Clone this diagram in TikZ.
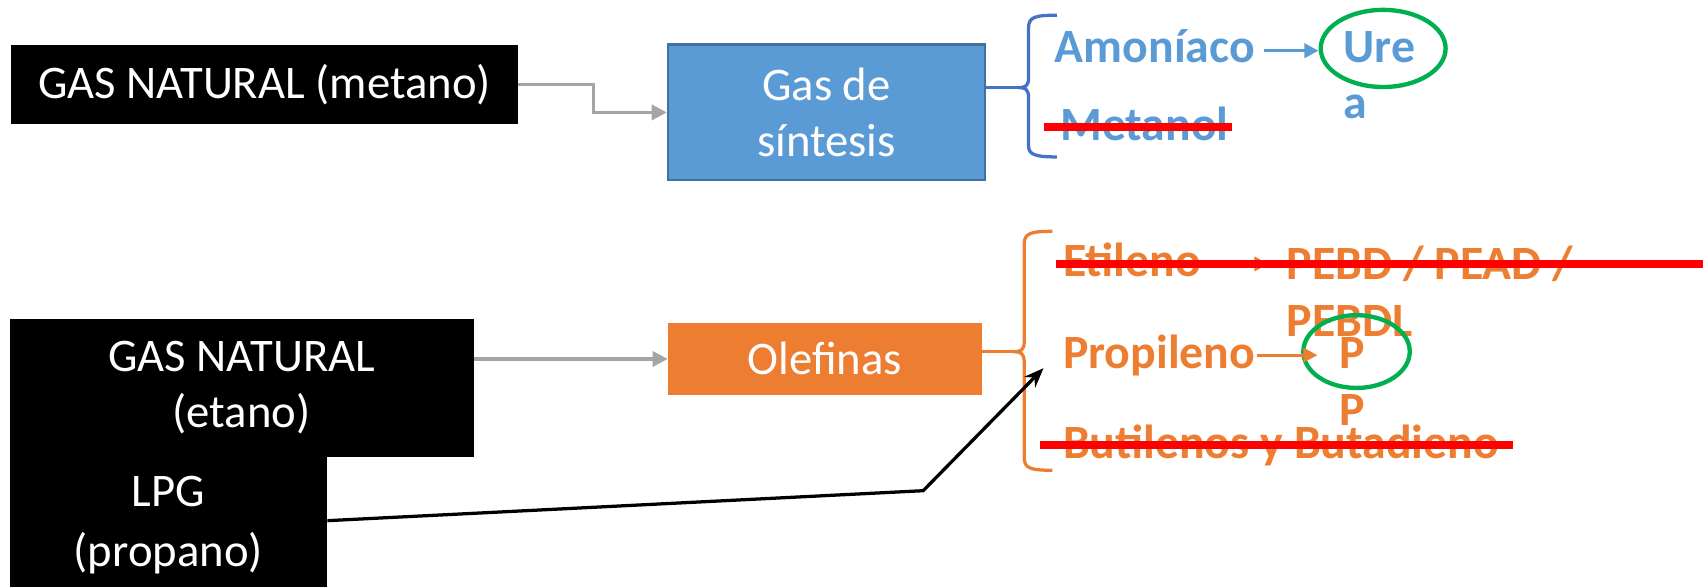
\documentclass[tikz,border=0pt]{standalone}
\usepackage{fontspec}
\setmainfont{Carlito}
\usetikzlibrary{arrows.meta,shapes.geometric}
\definecolor{blueF}{HTML}{5B9BD5}
\definecolor{blueB}{HTML}{41719C}
\definecolor{braceB}{HTML}{4472C4}
\definecolor{orangeF}{HTML}{ED7D31}
\definecolor{greenC}{HTML}{00B050}
\definecolor{redC}{HTML}{FF0000}
\definecolor{grayC}{HTML}{A5A5A5}
\tikzset{
  blackbox/.style={fill=black, draw=none, text=white, align=center, inner sep=0pt,
    font=\fontsize{43}{52}\selectfont},
  synbox/.style={fill=blueF, draw=blueB, line width=2pt, text=white, align=center, inner sep=0pt,
    font=\fontsize{43}{52}\selectfont},
  olebox/.style={fill=orangeF, draw=none, text=white, align=center, inner sep=0pt,
    font=\fontsize{43}{52}\selectfont},
  whitetext/.style={text=white, anchor=base, inner sep=0pt, font=\fontsize{43}{52}\selectfont},
  lab/.style={anchor=base west, inner sep=0pt, font=\bfseries\fontsize{44}{53}\selectfont},
  bluelab/.style={lab, text=blueF},
  orangelab/.style={lab, text=orangeF},
  grayarrow/.style={draw=grayC, line width=3pt, -{Triangle[length=14pt,width=14pt]}},
  bluearrow/.style={draw=blueF, line width=3pt, -{Triangle[length=13pt,width=13pt]}},
  orangearrow/.style={draw=orangeF, line width=3pt, -{Triangle[length=13pt,width=13pt]}},
  blackarrow/.style={draw=black, line width=3pt, -{Stealth[length=18pt,width=14pt]}},
  bracebl/.style={draw=braceB, line width=3pt},
  braceor/.style={draw=orangeF, line width=3pt},
  ring/.style={draw=greenC, line width=4pt, ellipse, inner sep=0pt},
  strike/.style={draw=redC, line width=7.5pt}
}
\begin{document}
\begin{tikzpicture}[x=1pt,y=-1pt]
\useasboundingbox (0,0) rectangle (1568,540);
% boxes
\node[blackbox, minimum width=467pt, minimum height=73pt] (gm) at (243.5,77.5) {GAS NATURAL (metano)};
\node[synbox, minimum width=292pt, minimum height=125pt] (syn) at (761,103.5) {Gas de\\síntesis};
\node[blackbox, minimum width=292pt, minimum height=135pt, anchor=north west] (lpg) at (9,417) {};
\node[blackbox, minimum width=427pt, minimum height=127pt] (ge) at (222.5,357) {GAS NATURAL\\(etano)};
\node[olebox, minimum width=289pt, minimum height=67pt] (ole) at (759.5,330.5) {Olefinas};
\node[whitetext] (lpg1) at (155,466.5) {LPG};
\node[whitetext] (lpg2) at (155,522) {(propano)};
% gray connectors
\draw[grayarrow] (gm.east) -- ++(69,0) |- (syn.west);
\draw[grayarrow] (ge.east |- ole.west) -- (ole.west);
% blue brace
\coordinate (bt) at (938,80.7);
\draw[bracebl] (syn.east |- bt) -- (bt);
\draw[bracebl] (973,14) .. controls (952,14) and (947,16) .. (947,26) -- (947,72)
  .. controls (947,79) and (944,80.7) .. (bt)
  .. controls (944,80.7) and (947,82) .. (947,90) -- (947,134)
  .. controls (947,142) and (952,144.5) .. (973,144.5);
% orange brace
\coordinate (ot) at (934,323.8);
\draw[braceor] (ole.east |- ot) -- (ot);
\draw[braceor] (969,213) .. controls (948,213) and (943,215) .. (943,225) -- (943,315)
  .. controls (943,322) and (940,323.8) .. (ot)
  .. controls (940,323.8) and (943,326) .. (943,333) -- (943,421)
  .. controls (943,431) and (948,433) .. (969,433);
% blue labels
\node[bluelab] (amon) at (971,58) {Amoníaco};
\node[bluelab] (ure1) at (1237,58) {Ure};
\node[bluelab] (ure2) at (1237,109) {a};
\node[bluelab] (meta) at (976,129) {Metanol};
\node[ring, minimum width=115pt, minimum height=71pt] (ureE) at (1273.5,44.6) {};
\coordinate (a1) at (1164,46.7);
\draw[bluearrow] (a1) -- (a1 -| ureE.west);
% orange labels
\node[orangelab] (eti) at (978.6,255) {Etileno};
\node[orangelab] (pe1) at (1184.7,257) {PEBD / PEAD /};
\node[orangelab] (pe2) at (1184.7,310) {PEBDL};
\node[orangelab] (pro) at (978.6,339) {Propileno};
\node[orangelab] (pp1) at (1233,339) {P};
\node[orangelab] (pp2) at (1233,391.4) {P};
\node[orangelab] (but) at (978.6,422) {Butilenos y Butadieno};
\node[ring, minimum width=98pt, minimum height=67pt] (ppE) at (1249,323.7) {};
\coordinate (e1) at (1110,243);
\coordinate (e2) at (1168,243);
\draw[orangearrow] (e1) -- (e2);
\coordinate (p1) at (1157.6,327);
\coordinate (p2) at (1213,327);
\draw[orangearrow] (p1) -- (p2);
% LPG arrow
\coordinate (ls) at (301,479.4);
\coordinate (lbend) at (850,451.8);
\coordinate (ltip) at (960.8,339);
\draw[blackarrow] (lpg.east |- ls) -- (lbend) -- (ltip);
% strike lines
\draw[strike] (961,116.6) -- (1134,116.6);
\draw[strike] (972.5,243) -- (1568,243);
\draw[strike] (958,410) -- (1393,410);
\end{tikzpicture}
\end{document}
